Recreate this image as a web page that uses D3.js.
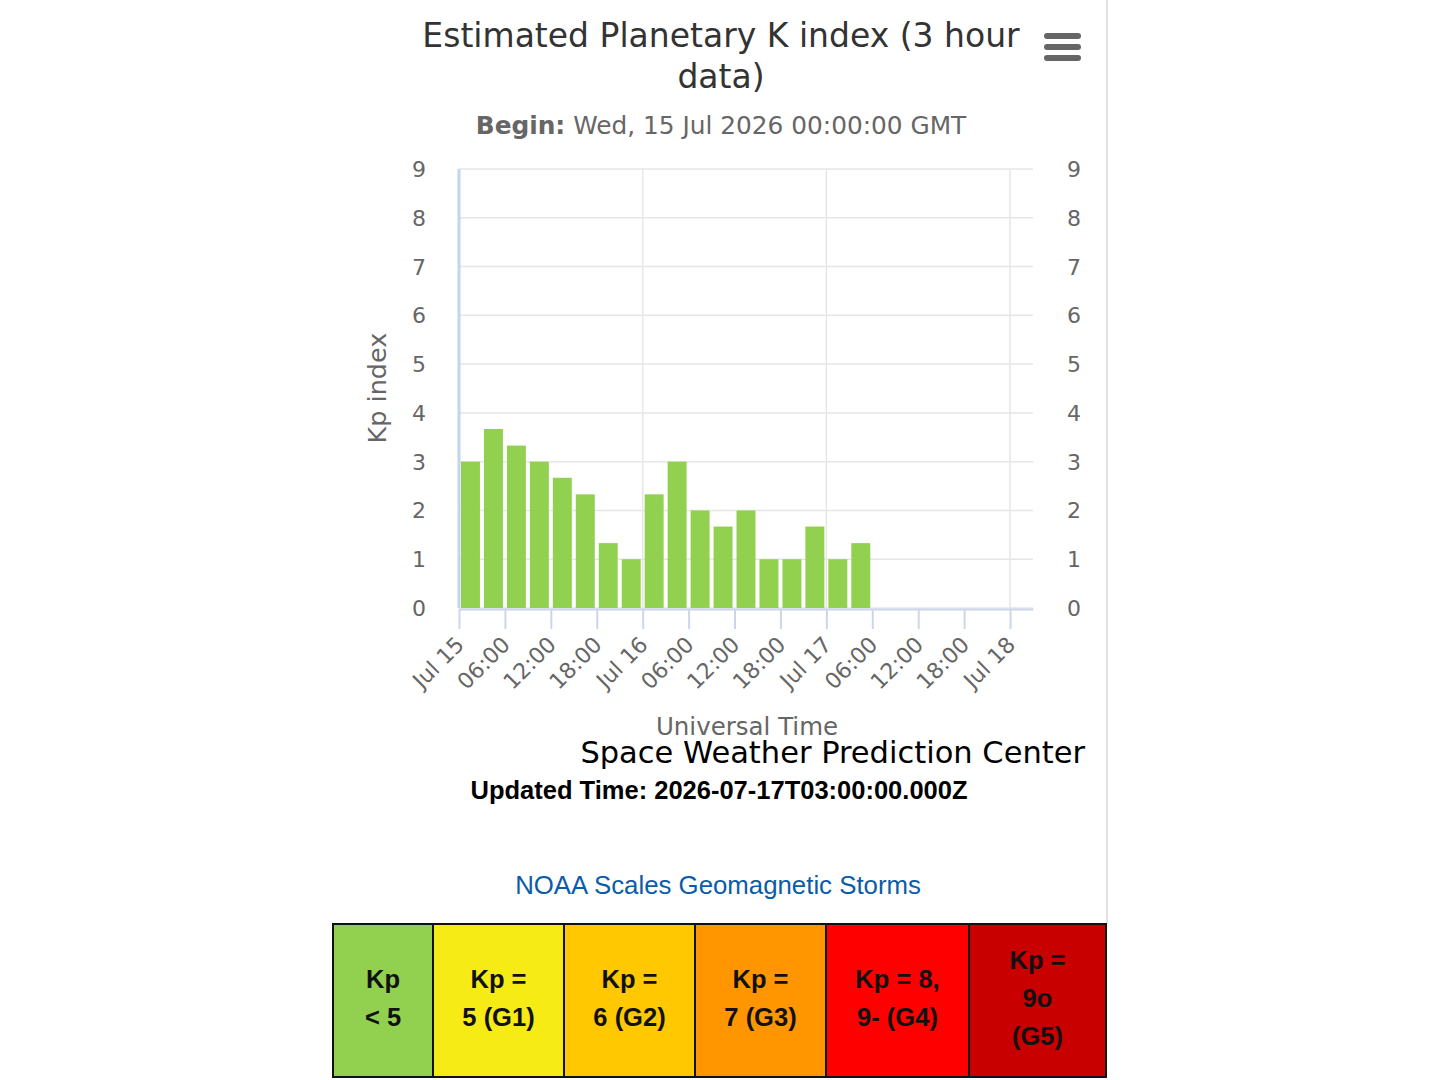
<!DOCTYPE html>
<html>
<head>
<meta charset="utf-8">
<script src="https://cdn.jsdelivr.net/npm/d3@7"></script>
<style>
  body { margin: 0; background: #fff; }
  svg { display: block; }
</style>
</head>
<body>
<svg id="chart" width="1440" height="1080"></svg>
<script>
// Kp values, one per 3 hour interval starting Jul 15 00:00 UTC
var kpValues = [3, 3.67, 3.33, 3, 2.67, 2.33, 1.33, 1, 2.33, 3, 2, 1.67, 2, 1, 1, 1.67, 1, 1.33];
var startTime = Date.UTC(2026, 6, 15, 0, 0, 0);
var endTime = Date.UTC(2026, 6, 18, 3, 0, 0);
var yTicks = [0, 1, 2, 3, 4, 5, 6, 7, 8, 9];

// NOAA scale legend cells
var scaleLabels = [
    ["Kp", "< 5"],
    ["Kp =", "5 (G1)"],
    ["Kp =", "6 (G2)"],
    ["Kp =", "7 (G3)"],
    ["Kp = 8,", "9- (G4)"],
    ["Kp =", "9o", "(G5)"]
];
var scaleColors = ["#92d050", "#f6eb14", "#ffc800", "#ff9600", "#ff0000", "#c80000"];
var scaleWidths = [100, 131, 131, 131, 143, 137];

var hourMs = 3600 * 1000,
    threeHours = 3 * hourMs,
    plotLeft = 459,
    plotRight = 1033,
    plotTop = 169,
    plotBottom = 608,
    titleFont = "'DejaVu Sans', 'Lucida Grande', sans-serif",
    tableFont = "'Liberation Sans', Arial, sans-serif",
    axisGrey = "#666666";

var svg = d3.select("#chart");

svg.append("rect").attr("width", 1440).attr("height", 1080).attr("fill", "#fff");

// page container edge on the right
svg.append("line")
    .attr("x1", 1107).attr("x2", 1107)
    .attr("y1", 0).attr("y2", 924)
    .attr("stroke", "#e0e0e0").attr("stroke-width", 2);

var x = d3.scaleUtc().domain([startTime, endTime]).range([plotLeft, plotRight]);
var y = d3.scaleLinear().domain([0, 9]).range([plotBottom, plotTop]);

// Title and subtitle
var title = svg.append("text")
    .attr("text-anchor", "middle")
    .style("font-family", titleFont)
    .style("font-size", "33px")
    .attr("fill", "#333333");
title.append("tspan").attr("x", 721).attr("y", 47).text("Estimated Planetary K index (3 hour");
title.append("tspan").attr("x", 721).attr("y", 88).text("data)");

var subtitle = svg.append("text")
    .attr("x", 721).attr("y", 134)
    .attr("text-anchor", "middle")
    .style("font-family", titleFont)
    .style("font-size", "24.8px")
    .attr("fill", axisGrey);
subtitle.append("tspan").style("font-weight", "bold").text("Begin:");
subtitle.append("tspan").text(" Wed, 15 Jul 2026 00:00:00 GMT");

// Menu button
svg.append("g").selectAll("rect")
    .data([0, 1, 2])
    .join("rect")
    .attr("x", 1044)
    .attr("y", function (d) { return 33 + d * 11; })
    .attr("width", 37)
    .attr("height", 6)
    .attr("rx", 3)
    .attr("fill", axisGrey);

// Horizontal grid
svg.append("g").selectAll("line")
    .data(yTicks)
    .join("line")
    .attr("x1", plotLeft).attr("x2", plotRight)
    .attr("y1", function (d) { return y(d); })
    .attr("y2", function (d) { return y(d); })
    .attr("stroke", "#e6e6e6").attr("stroke-width", 1.5);

// Vertical grid, one line per day
var dayTicks = d3.utcDay.range(startTime, endTime + 1);
svg.append("g").selectAll("line")
    .data(dayTicks)
    .join("line")
    .attr("x1", function (d) { return x(d); })
    .attr("x2", function (d) { return x(d); })
    .attr("y1", plotTop).attr("y2", plotBottom)
    .attr("stroke", "#e6e6e6").attr("stroke-width", 1.5);

// Bars
var barData = kpValues.map(function (v, i) {
    return { t: startTime + i * threeHours, kp: v };
});
svg.append("g").selectAll("rect")
    .data(barData)
    .join("rect")
    .attr("x", function (d) { return x(d.t) + 2; })
    .attr("y", function (d) { return y(d.kp); })
    .attr("width", function (d) { return x(d.t + threeHours) - x(d.t) - 4; })
    .attr("height", function (d) { return y(0) - y(d.kp); })
    .attr("fill", "#92d050");

// Left y axis line
svg.append("line")
    .attr("x1", plotLeft).attr("x2", plotLeft)
    .attr("y1", plotTop).attr("y2", plotBottom)
    .attr("stroke", "#c6d3ee").attr("stroke-width", 3);

// X axis
var tickFormat = function (d) {
    return d.getUTCHours() === 0 ? d3.utcFormat("%b %d")(d).replace(/ 0/, " ") : d3.utcFormat("%H:%M")(d);
};
var xAxis = d3.axisBottom(x)
    .ticks(d3.utcHour.every(6))
    .tickSize(20)
    .tickSizeOuter(0)
    .tickFormat(tickFormat);
var xg = svg.append("g")
    .attr("transform", "translate(0," + (plotBottom + 1) + ")")
    .call(xAxis);
xg.select(".domain").attr("stroke", "#ccd6eb").attr("stroke-width", 2);
xg.selectAll(".tick line").attr("stroke", "#ccd6eb").attr("stroke-width", 2);
xg.selectAll(".tick text")
    .attr("y", 0).attr("dy", 0)
    .attr("transform", "translate(6,37) rotate(-45)")
    .attr("text-anchor", "end")
    .attr("fill", axisGrey)
    .style("font-family", titleFont)
    .style("font-size", "22px");

// Y axis labels, both sides
var yLabelStyle = function (sel, xPos) {
    sel.selectAll("text")
        .data(yTicks)
        .join("text")
        .attr("x", xPos)
        .attr("y", function (d) { return y(d) + 8; })
        .attr("text-anchor", "middle")
        .attr("fill", axisGrey)
        .style("font-family", titleFont)
        .style("font-size", "22px")
        .text(function (d) { return d; });
};
svg.append("g").call(yLabelStyle, 419);
svg.append("g").call(yLabelStyle, 1074);

// Axis titles
svg.append("text")
    .attr("transform", "translate(386,388) rotate(-90)")
    .attr("text-anchor", "middle")
    .attr("fill", axisGrey)
    .style("font-family", titleFont)
    .style("font-size", "25.5px")
    .text("Kp index");

svg.append("text")
    .attr("x", 747).attr("y", 735)
    .attr("text-anchor", "middle")
    .attr("fill", axisGrey)
    .style("font-family", titleFont)
    .style("font-size", "24.5px")
    .text("Universal Time");

svg.append("text")
    .attr("x", 1085).attr("y", 763)
    .attr("text-anchor", "end")
    .attr("fill", "#000")
    .style("font-family", titleFont)
    .style("font-size", "30.5px")
    .text("Space Weather Prediction Center");

svg.append("text")
    .attr("x", 719).attr("y", 799)
    .attr("text-anchor", "middle")
    .attr("fill", "#000")
    .style("font-family", tableFont)
    .style("font-weight", "bold")
    .style("font-size", "25.5px")
    .text("Updated Time: 2026-07-17T03:00:00.000Z");

svg.append("text")
    .attr("x", 718).attr("y", 894)
    .attr("text-anchor", "middle")
    .attr("fill", "#0b5ca8")
    .style("font-family", tableFont)
    .style("font-size", "25.8px")
    .text("NOAA Scales Geomagnetic Storms");

// NOAA scale table
var tableLeft = 333,
    tableTop = 924,
    tableHeight = 153,
    lineGap = 38;
var offsets = [];
scaleWidths.reduce(function (acc, w) { offsets.push(acc); return acc + w; }, tableLeft);

var cells = svg.append("g").selectAll("g")
    .data(scaleLabels)
    .join("g")
    .attr("transform", function (d, i) { return "translate(" + offsets[i] + "," + tableTop + ")"; });

cells.append("rect")
    .attr("width", function (d, i) { return scaleWidths[i]; })
    .attr("height", tableHeight)
    .attr("fill", function (d, i) { return scaleColors[i]; })
    .attr("stroke", "#111")
    .attr("stroke-width", 2);

cells.each(function (lines, i) {
    var cx = scaleWidths[i] / 2,
        firstY = tableHeight / 2 - (lines.length - 1) * lineGap / 2 + 6;
    d3.select(this).selectAll("text")
        .data(lines)
        .join("text")
        .attr("x", cx)
        .attr("y", function (d, j) { return firstY + j * lineGap; })
        .attr("text-anchor", "middle")
        .attr("fill", "#111")
        .style("font-family", tableFont)
        .style("font-weight", "bold")
        .style("font-size", "25.5px")
        .text(function (d) { return d; });
});
</script>
</body>
</html>
